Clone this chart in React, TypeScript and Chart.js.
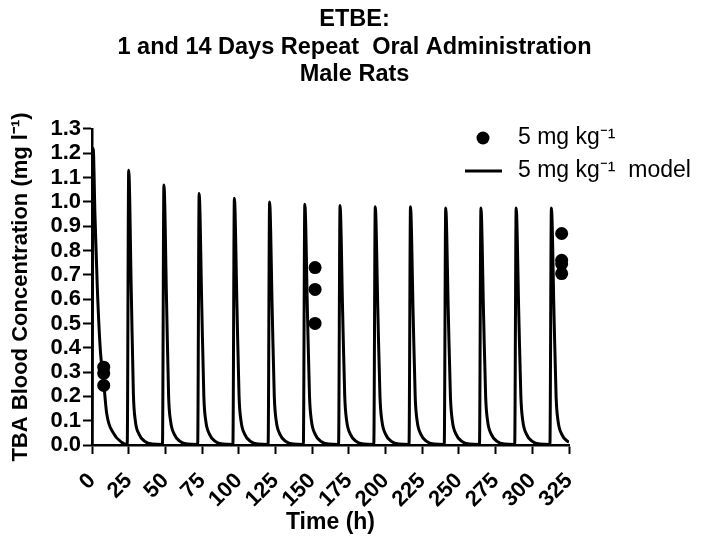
import { useEffect, useRef } from "react";
import { Chart, registerables } from "chart.js";

Chart.register(...registerables);

const FONT = "'Liberation Sans', Arial, Helvetica, sans-serif";

const titleLines = ["ETBE:", "1 and 14 Days Repeat  Oral Administration", "Male Rats"];
const xAxisTitle = "Time (h)";
const yAxisTitle = "TBA Blood Concentration (mg l\u207B\u00B9)";
const observedLabel = "5 mg kg\u207B\u00B9";
const modelLabel = "5 mg kg\u207B\u00B9  model";

// x ticks: 0..325 every 25 h; y ticks: 0.0..1.3 every 0.1
const xTickValues = [0, 25, 50, 75, 100, 125, 150, 175, 200, 225, 250, 275, 300, 325];
const yTickValues = [0, 0.1, 0.2, 0.3, 0.4, 0.5, 0.6, 0.7, 0.8, 0.9, 1.0, 1.1, 1.2, 1.3];

// observed blood TBA (mg/l), 8 h after the 1st, 7th and 14th dose
const obsTime = [8, 8, 8, 152, 152, 152, 320, 320, 320, 320];
const obsConc = [0.32, 0.295, 0.245, 0.73, 0.64, 0.5, 0.87, 0.76, 0.745, 0.705];

// model curve (one row per daily dose)
const modelTime = [
  0, 0.8, 2, 3.6, 5.8, 7.5, 10, 14.5, 20,
  24, 25, 26.8, 28.2, 29.5, 32, 36, 41,
  48, 49, 50.8, 52.2, 53.5, 56, 60, 65,
  72, 73, 74.8, 76.2, 77.5, 80, 84, 89,
  96, 97, 98.8, 100.2, 101.5, 104, 108, 113,
  120, 121, 122.8, 124.2, 125.5, 128, 132, 137,
  144, 145, 146.8, 148.2, 149.5, 152, 156, 161,
  168, 169, 170.8, 172.2, 173.5, 176, 180, 185,
  192, 193, 194.8, 196.2, 197.5, 200, 204, 209,
  216, 217, 218.8, 220.2, 221.5, 224, 228, 233,
  240, 241, 242.8, 244.2, 245.5, 248, 252, 257,
  264, 265, 266.8, 268.2, 269.5, 272, 276, 281,
  288, 289, 290.8, 292.2, 293.5, 296, 300, 305,
  312, 313, 314.8, 316.2, 317.5, 320, 324, 325,
];
const modelConc = [
  0, 1.22, 0.95, 0.65, 0.38, 0.29, 0.13, 0.05, 0.012,
  0.002, 1.13, 0.62, 0.21, 0.1, 0.045, 0.015, 0.004,
  0.002, 1.07, 0.59, 0.2, 0.1, 0.045, 0.015, 0.004,
  0.002, 1.035, 0.57, 0.2, 0.1, 0.045, 0.015, 0.004,
  0.002, 1.015, 0.56, 0.2, 0.1, 0.045, 0.015, 0.004,
  0.002, 1.0, 0.55, 0.2, 0.1, 0.045, 0.015, 0.004,
  0.002, 0.99, 0.545, 0.2, 0.1, 0.045, 0.015, 0.004,
  0.002, 0.985, 0.54, 0.2, 0.1, 0.045, 0.015, 0.004,
  0.002, 0.98, 0.54, 0.2, 0.1, 0.045, 0.015, 0.004,
  0.002, 0.98, 0.54, 0.2, 0.1, 0.045, 0.015, 0.004,
  0.002, 0.975, 0.535, 0.2, 0.1, 0.045, 0.015, 0.004,
  0.002, 0.975, 0.535, 0.2, 0.1, 0.045, 0.015, 0.004,
  0.002, 0.975, 0.535, 0.2, 0.1, 0.045, 0.015, 0.004,
  0.002, 0.975, 0.535, 0.2, 0.1, 0.045, 0.015, 0.013,
];

const legendPlugin = {
  id: "cornerLegend",
  afterDraw(chart: any) {
    const ctx = chart.ctx as CanvasRenderingContext2D;
    const ds = chart.data.datasets;
    const markX = 483;
    const textX = 518;
    const rows = [138, 171];
    ctx.save();
    ctx.fillStyle = "#000";
    ctx.strokeStyle = "#000";
    ctx.font = `23px ${FONT}`;
    ctx.textBaseline = "middle";
    ctx.textAlign = "left";
    // row 1: points
    ctx.beginPath();
    ctx.arc(markX, rows[0], 6.5, 0, Math.PI * 2);
    ctx.fill();
    ctx.fillText(ds[0].label, textX, rows[0]);
    // row 2: line
    ctx.lineWidth = 3;
    ctx.beginPath();
    ctx.moveTo(465, rows[1]);
    ctx.lineTo(502, rows[1]);
    ctx.stroke();
    ctx.fillText(ds[1].label, textX, rows[1]);
    ctx.restore();
  },
};

export default function App() {
  const canvasRef = useRef<HTMLCanvasElement | null>(null);

  useEffect(() => {
    const canvas = canvasRef.current;
    if (!canvas) return;
    Chart.defaults.font.family = FONT;
    Chart.defaults.color = "#000";

    const chart = new Chart(canvas, {
      type: "scatter",
      data: {
        datasets: [
          {
            label: observedLabel,
            data: obsTime.map((t, i) => ({ x: t, y: obsConc[i] })),
            showLine: false,
            pointRadius: 6.5,
            pointHoverRadius: 6.5,
            pointBackgroundColor: "#000",
            pointBorderWidth: 0,
            borderColor: "#000",
          },
          {
            label: modelLabel,
            data: modelTime.map((t, i) => ({ x: t, y: modelConc[i] })),
            showLine: true,
            pointRadius: 0,
            borderColor: "#000",
            borderWidth: 3,
            cubicInterpolationMode: "monotone",
            fill: false,
          },
        ],
      },
      options: {
        responsive: false,
        animation: false,
        devicePixelRatio: 1,
        layout: { padding: 0 },
        plugins: {
          legend: { display: false },
          tooltip: { enabled: false },
          title: {
            display: true,
            text: titleLines,
            fullSize: true,
            color: "#000",
            font: { size: 23.5, weight: "bold", family: FONT, lineHeight: 1.17 },
            padding: { top: 6, bottom: 40.5 },
          },
        },
        scales: {
          x: {
            type: "linear",
            min: 0,
            max: 325,
            afterFit: (s: any) => {
              s.height = 107;
            },
            afterBuildTicks: (s: any) => {
              s.ticks = xTickValues.map((v) => ({ value: v }));
            },
            ticks: {
              autoSkip: false,
              minRotation: 45,
              maxRotation: 45,
              padding: 14,
              color: "#000",
              font: { size: 22, weight: "bold", family: FONT },
              callback: (v: any) => String(v),
            },
            grid: {
              display: true,
              drawOnChartArea: false,
              drawTicks: true,
              tickLength: 9,
              tickWidth: 2,
              tickColor: "#000",
              color: "#000",
            },
            border: { display: true, color: "#000", width: 2.5 },
            title: {
              display: true,
              text: xAxisTitle,
              color: "#000",
              font: { size: 23, weight: "bold", family: FONT },
              padding: { top: 0, bottom: 16 },
            },
          },
          y: {
            type: "linear",
            min: 0,
            max: 1.3,
            afterFit: (s: any) => {
              s.width = 92;
            },
            afterBuildTicks: (s: any) => {
              s.ticks = yTickValues.map((v) => ({ value: v }));
            },
            ticks: {
              autoSkip: false,
              padding: 2,
              color: "#000",
              font: { size: 22, weight: "bold", family: FONT },
              callback: (v: any) => Number(v).toFixed(1),
            },
            grid: {
              display: true,
              drawOnChartArea: false,
              drawTicks: true,
              tickLength: 9,
              tickWidth: 2,
              tickColor: "#000",
              color: "#000",
            },
            border: { display: true, color: "#000", width: 2.5 },
            title: {
              display: true,
              text: yAxisTitle,
              color: "#000",
              font: { size: 22, weight: "bold", family: FONT },
              padding: { top: 8, bottom: 0 },
            },
          },
          // empty right-hand strip that holds the legend
          legendSpace: {
            type: "linear",
            position: "right",
            display: true,
            min: 0,
            max: 1,
            afterFit: (s: any) => {
              s.width = 140;
            },
            ticks: { display: false },
            grid: { display: false, drawTicks: false },
            border: { display: false },
            title: { display: false },
          },
        },
      },
      plugins: [legendPlugin],
    });

    return () => {
      chart.destroy();
    };
  }, []);

  return (
    <div style={{ position: "absolute", left: 0, top: 0, width: 709, height: 552, background: "#fff" }}>
      <canvas ref={canvasRef} width={709} height={552} style={{ width: 709, height: 552, display: "block" }} />
    </div>
  );
}
